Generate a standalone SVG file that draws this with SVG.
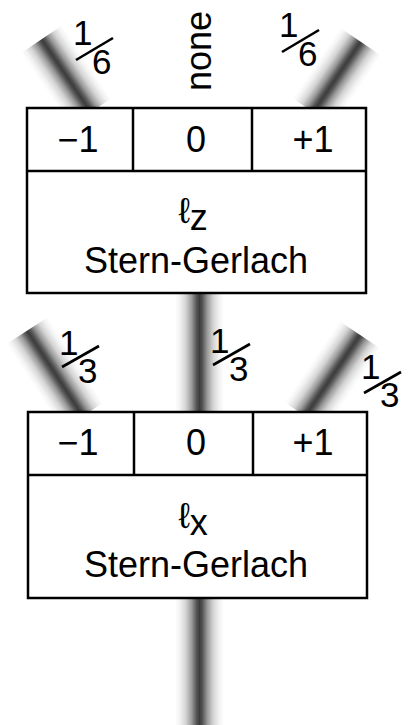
<svg xmlns="http://www.w3.org/2000/svg" width="409" height="725" viewBox="0 0 409 725">
<defs>
<linearGradient id="beam" x1="0" y1="0" x2="1" y2="0">
<stop offset="0" stop-color="#fff"/>
<stop offset="0.1" stop-color="#f2f2f2"/>
<stop offset="0.22" stop-color="#d4d4d4"/>
<stop offset="0.34" stop-color="#9a9a9a"/>
<stop offset="0.44" stop-color="#555"/>
<stop offset="0.5" stop-color="#3c3c3c"/>
<stop offset="0.56" stop-color="#555"/>
<stop offset="0.66" stop-color="#9a9a9a"/>
<stop offset="0.78" stop-color="#d4d4d4"/>
<stop offset="0.9" stop-color="#f2f2f2"/>
<stop offset="1" stop-color="#fff"/>
</linearGradient>
</defs>
<style>
.box{fill:#fff;stroke:#000;stroke-width:2.5}
.div{stroke:#000;stroke-width:2.5;fill:none}
.t{font-family:"Liberation Sans",Arial,sans-serif;fill:#000;text-anchor:middle}
.lab{font-size:36px}
.main{font-size:36px}
.fr{font-family:"Liberation Sans",Arial,sans-serif;font-size:35px;fill:#000}
.sl{stroke:#000;stroke-width:2.6}
.b{fill:url(#beam)}
</style>
<g id="beams">
<rect class="b" x="175" y="290" width="49" height="125"/>
<rect class="b" x="175" y="595" width="49" height="130"/>
<g transform="translate(88,108) rotate(-34)"><rect class="b" x="-24.5" y="-83" width="49" height="88"/></g>
<g transform="translate(316,108) rotate(34)"><rect class="b" x="-24.5" y="-80" width="49" height="85"/></g>
<g transform="translate(80,412) rotate(-33)"><rect class="b" x="-24.5" y="-97" width="49" height="102"/></g>
<g transform="translate(308,412) rotate(34)"><rect class="b" x="-24.5" y="-93" width="49" height="98"/></g>
</g>
<g id="sg_z">
<rect class="box" x="27" y="108" width="339" height="185"/>
<line class="div" x1="27" y1="171" x2="366" y2="171"/>
<line class="div" x1="133" y1="108" x2="133" y2="171"/>
<line class="div" x1="252" y1="108" x2="252" y2="171"/>
<text class="t lab" x="78" y="152">−1</text>
<text class="t lab" x="196" y="152">0</text>
<text class="t lab" x="313" y="152">+1</text>
<text class="t main" x="193" y="223">ℓ<tspan dy="7">z</tspan></text>
<text class="t main" x="196" y="273">Stern-Gerlach</text>
</g>
<g id="sg_x">
<rect class="box" x="28" y="412" width="339" height="186"/>
<line class="div" x1="28" y1="475" x2="367" y2="475"/>
<line class="div" x1="134" y1="412" x2="134" y2="475"/>
<line class="div" x1="253" y1="412" x2="253" y2="475"/>
<text class="t lab" x="78" y="455">−1</text>
<text class="t lab" x="196" y="455">0</text>
<text class="t lab" x="313" y="455">+1</text>
<text class="t main" x="193" y="528">ℓ<tspan dy="7">x</tspan></text>
<text class="t main" x="196" y="577">Stern-Gerlach</text>
</g>
<g id="labels">
<text class="t main" transform="translate(211,51) rotate(-90)">none</text>
<g transform="translate(77,22)"><text class="fr" x="-4" y="23">1</text><line class="sl" x1="-1" y1="38" x2="36" y2="16"/><text class="fr" x="15" y="52">6</text></g>
<g transform="translate(283,14)"><text class="fr" x="-4" y="23">1</text><line class="sl" x1="-1" y1="38" x2="36" y2="16"/><text class="fr" x="15" y="52">6</text></g>
<g transform="translate(63,332)"><text class="fr" x="-4" y="23">1</text><line class="sl" x1="-1" y1="35" x2="36" y2="14"/><text class="fr" x="15" y="51">3</text></g>
<g transform="translate(214,330)"><text class="fr" x="-4" y="23">1</text><line class="sl" x1="-1" y1="35" x2="36" y2="14"/><text class="fr" x="15" y="51">3</text></g>
<g transform="translate(365,356)"><text class="fr" x="-4" y="23">1</text><line class="sl" x1="-1" y1="37" x2="36" y2="16"/><text class="fr" x="15" y="51">3</text></g>
</g>
</svg>
